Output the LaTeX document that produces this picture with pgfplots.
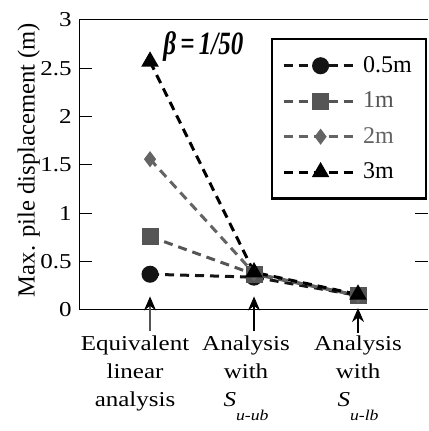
\documentclass[border=0pt]{standalone}
\usepackage{fontspec}
\setmainfont{Liberation Serif}[FakeStretch=1.18]
\newfontfamily\plainfont{Liberation Serif}
\usepackage{pgfplots}
\pgfplotsset{compat=1.18}
\usetikzlibrary{arrows.meta}
\definecolor{dk}{RGB}{20,20,20}
\definecolor{gr}{RGB}{85,85,85}
\definecolor{gr2}{RGB}{100,100,100}

\begin{document}
\fontsize{10.6}{14}\selectfont
\begin{tikzpicture}
\begin{axis}[
  scale only axis, width=174.5pt, height=145pt,
  xmin=-0.683, xmax=2.673, ymin=0, ymax=3,
  axis x line=box, axis y line=left, axis line style={-, line width=0.5pt},
  xtick={-0.144,0.923,2},
  xticklabels={{Equivalent\\linear\\analysis},
    {Analysis\\with\\\textit{S}\raisebox{-7pt}{\fontsize{7.5}{9}\selectfont\textit{u-ub}}},
    {Analysis\\with\\\textit{S}\raisebox{-7pt}{\fontsize{7.5}{9}\selectfont\textit{u-lb}}}},
  xticklabel style={align=center, yshift=-9pt, font=\fontsize{10.6}{14}\selectfont},
  x tick style={draw=none},
  ytick={0,0.5,1,1.5,2,2.5,3},
  yticklabels={0,0.5,1,1.5,2,2.5,3},
  yticklabel style={font=\fontsize{10.6}{14}\selectfont},
  y tick style={line width=0.5pt, black}, tick align=inside, major tick length=6.5pt,
  ylabel={Max. pile displacement (m)},
  ylabel style={at={(axis description cs:-0.144,0.517)}, anchor=center, font=\plainfont\fontsize{12.3}{14}\selectfont},
  clip=false,
  legend style={at={(rel axis cs:0.997,0.938)}, anchor=north east, draw=black, line width=1.2pt,
    font=\plainfont\fontsize{12}{14}\selectfont, row sep=4.2pt, inner xsep=5pt, inner ysep=6.5pt},
  legend cell align=left,
  legend image code/.code={\draw[mark repeat=2, mark phase=2, #1] plot coordinates {(0pt,0pt) (18.5pt,0pt) (37pt,0pt)};},
  every axis plot/.append style={line width=1.5pt, dash pattern=on 4.5pt off 3pt},
]
\addplot[color=dk, mark=*, mark size=3.5pt, mark options={solid}] coordinates {(0,0.37) (1,0.34) (2,0.15)};
\addplot[color=gr, mark=square*, mark size=3.5pt, mark options={solid}] coordinates {(0,0.76) (1,0.37) (2,0.15)};
\addplot[color=gr2, mark=diamond*, mark size=2.8pt, mark options={solid}] coordinates {(0,1.56) (1,0.38) (2,0.15)};
\addplot[color=black, mark=triangle*, mark size=3.6pt, mark options={solid}] coordinates {(0,2.57) (1,0.39) (2,0.16)};
\legend{0.5m, \textcolor{gr}{1m}, \textcolor{gr2}{2m}, 3m}
\node[anchor=west, inner sep=0pt, font=\plainfont\fontsize{12.5}{14}\selectfont\bfseries\itshape] at (axis cs:0.125,2.73) {\scalebox{1}[1.3]{β\,=\,1/50}};
\draw[gr, line width=0.6pt, -{Stealth[length=7pt, width=6pt, black]}] (axis cs:0,-0.22) -- (axis cs:0,0.14);
\draw[black, line width=0.6pt, -{Stealth[length=7pt, width=6pt, black]}] (axis cs:1,-0.22) -- (axis cs:1,0.14);
\draw[black, line width=0.6pt, -{Stealth[length=7pt, width=6pt, black]}] (axis cs:2,-0.24) -- (axis cs:2,0.02);
\draw[line width=0.5pt] (rel axis cs:1,0.5/3) -- ++(-6.5pt,0pt);
\draw[line width=0.5pt] (rel axis cs:1,1/3) -- ++(-6.5pt,0pt);
\coordinate (O) at (rel axis cs:0,0);
\coordinate (T) at (rel axis cs:1,1);
\end{axis}
\pgfresetboundingbox
\path[use as bounding box] ([shift={(-39.5pt,-60.5pt)}]O) rectangle ([shift={(0pt,10pt)}]T);
\end{tikzpicture}
\end{document}
